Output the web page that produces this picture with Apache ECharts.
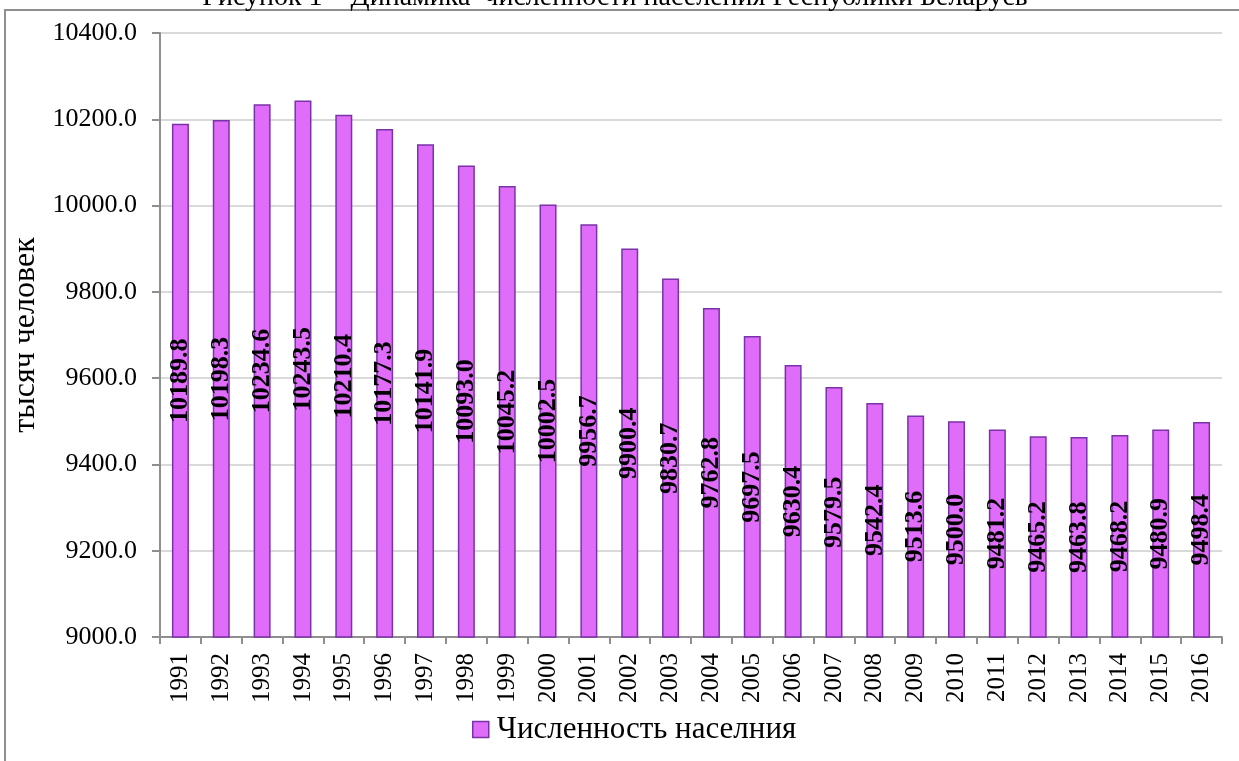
<!DOCTYPE html>
<html>
<head>
<meta charset="utf-8">
<script src="https://cdn.jsdelivr.net/npm/echarts@6/dist/echarts.min.js"></script>
<style>
  html, body { margin: 0; padding: 0; background: #fff; }
  #main { width: 1239px; height: 761px; }
</style>
</head>
<body>
<div id="main"></div>
<script>
// годы
const years = ['1991','1992','1993','1994','1995','1996','1997','1998','1999','2000','2001','2002','2003',
  '2004','2005','2006','2007','2008','2009','2010','2011','2012','2013','2014','2015','2016'];
// численность, тыс. человек
const population = [10189.8, 10198.3, 10234.6, 10243.5, 10210.4, 10177.3, 10141.9, 10093.0, 10045.2, 10002.5,
  9956.7, 9900.4, 9830.7, 9762.8, 9697.5, 9630.4, 9579.5, 9542.4, 9513.6, 9500.0,
  9481.2, 9465.2, 9463.8, 9468.2, 9480.9, 9498.4];
const yMin = 9000;
const yMax = 10400;
const yStep = 200;
const seriesName = 'Численность населния';

const font = 'Liberation Serif';
const chart = echarts.init(document.getElementById('main'));
chart.setOption({
  animation: false,
  textStyle: { fontFamily: font },
  graphic: [
    {   // рамка диаграммы
      type: 'rect',
      shape: { x: 5, y: 10, width: 1300, height: 800 },
      style: { fill: 'none', stroke: '#8f8f8f', lineWidth: 2 },
      silent: true
    },
    {   // подпись рисунка (обрезана сверху)
      type: 'text',
      x: 615,
      y: -2,
      style: {
        text: 'Рисунок 1 – Динамика  численности населения Республики Беларусь',
        font: '28px "Liberation Serif"',
        fill: '#000',
        align: 'center',
        verticalAlign: 'middle'
      }
    }
  ],
  legend: {
    top: 709,
    left: 467,
    icon: 'rect',
    itemWidth: 16,
    itemHeight: 16,
    itemGap: 4,
    itemStyle: { borderColor: '#7a32a8', borderWidth: 1.5 },
    textStyle: { fontFamily: font, fontSize: 31, color: '#000', padding: [0, 0, 0, 3] },
    data: [seriesName]
  },
  grid: { left: 160, right: 17, top: 33, bottom: 124 },
  xAxis: {
    type: 'category',
    data: years,
    axisLine: { lineStyle: { color: '#8f8f8f', width: 2 } },
    axisTick: { show: true, length: 7, lineStyle: { color: '#8f8f8f', width: 2 } },
    axisLabel: { rotate: 90, color: '#000', fontFamily: font, fontSize: 25, margin: 16 }
  },
  yAxis: {
    type: 'value',
    min: yMin,
    max: yMax,
    interval: yStep,
    name: 'тысяч человек',
    nameLocation: 'middle',
    nameGap: 118,
    nameTextStyle: { fontFamily: font, fontSize: 32, color: '#000' },
    axisLine: { show: true, lineStyle: { color: '#8f8f8f', width: 2 } },
    axisTick: { show: true, length: 8, lineStyle: { color: '#8f8f8f', width: 2 } },
    axisLabel: {
      color: '#000', fontFamily: font, fontSize: 26, margin: 23,
      formatter: v => v.toFixed(1)
    },
    splitLine: { lineStyle: { color: '#d9d9d9', width: 2 } }
  },
  series: [
    {
      name: seriesName,
      type: 'bar',
      data: population,
      barWidth: 17,
      itemStyle: { color: '#e06cfa', borderColor: '#7a32a8', borderWidth: 1.5 },
      label: {
        show: true,
        position: 'inside',
        rotate: 90,
        color: '#000',
        fontFamily: font,
        fontWeight: 'bold',
        fontSize: 26,
        formatter: p => p.value.toFixed(1)
      }
    }
  ]
});
</script>
</body>
</html>
